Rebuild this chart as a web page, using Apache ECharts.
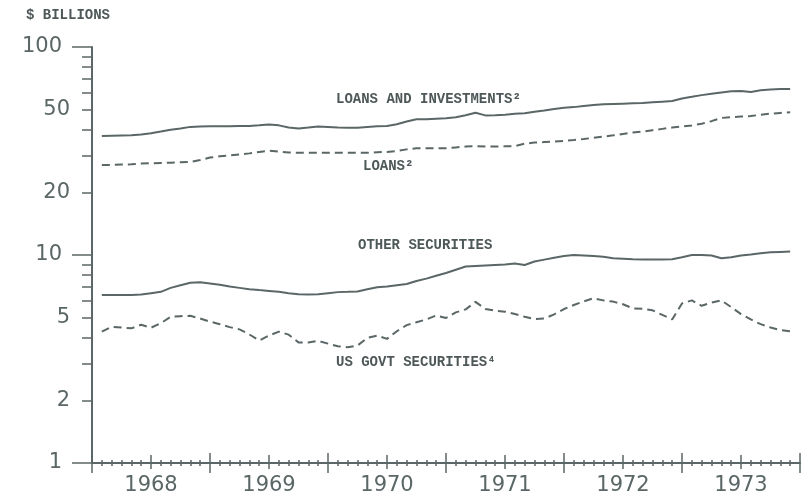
<!DOCTYPE html>
<html>
<head>
<meta charset="utf-8">
<script src="https://cdn.jsdelivr.net/npm/echarts@6/dist/echarts.min.js"></script>
<style>
html, body { margin: 0; padding: 0; background: #fff; }
#main { width: 805px; height: 500px; }
</style>
</head>
<body>
<div id="main"></div>
<script>
// month-end readings, Jan 1968 .. Nov 1973 ($ billions)
var firstMonth = 1;
var yearLabels = ['1968', '1969', '1970', '1971', '1972', '1973'];
var yTicks = [1, 2, 3, 4, 5, 6, 7, 8, 9, 10, 20, 30, 40, 50, 60, 70, 80, 90, 100];
var yLabelsShort = [2, 5, 20, 50];
var yLabelsLong = [1, 10, 100];

var loansInvest = [37.3, 37.4, 37.5, 37.6, 38.0, 38.5, 39.2, 40.0, 40.6, 41.3, 41.5, 41.6,
    41.6, 41.6, 41.7, 41.7, 42.0, 42.4, 42.0, 41.0, 40.6, 41.0, 41.5, 41.3,
    41.0, 40.9, 40.9, 41.3, 41.6, 41.7, 42.5, 43.8, 44.9, 45.0, 45.2, 45.4,
    46.0, 47.0, 48.3, 46.9, 47.0, 47.3, 47.7, 48.0, 48.8, 49.5, 50.3, 51.0,
    51.4, 52.0, 52.6, 53.0, 53.2, 53.4, 53.6, 53.8, 54.2, 54.6, 55.0, 56.6,
    57.6, 58.7, 59.6, 60.5, 61.2, 61.5, 60.8, 62.0, 62.5, 62.8, 62.9];
var loans = [27.1, 27.1, 27.2, 27.3, 27.5, 27.6, 27.7, 27.8, 27.9, 28.0, 28.6, 29.4,
    29.8, 30.1, 30.4, 30.8, 31.3, 31.7, 31.4, 31.1, 31.0, 31.0, 31.0, 31.0,
    31.0, 31.0, 31.0, 31.0, 31.2, 31.3, 31.6, 32.2, 32.6, 32.6, 32.6, 32.6,
    32.9, 33.2, 33.4, 33.2, 33.2, 33.3, 33.4, 34.3, 34.7, 34.9, 35.1, 35.4,
    35.7, 36.1, 36.6, 37.1, 37.6, 38.2, 38.8, 39.2, 39.8, 40.4, 41.0, 41.5,
    41.9, 42.8, 44.0, 45.6, 46.0, 46.3, 46.6, 47.2, 47.8, 48.2, 48.5];
var otherSec = [6.42, 6.42, 6.42, 6.43, 6.45, 6.55, 6.65, 6.95, 7.15, 7.35, 7.4, 7.3,
    7.2, 7.05, 6.95, 6.85, 6.78, 6.72, 6.65, 6.55, 6.47, 6.45, 6.47, 6.55,
    6.63, 6.65, 6.68, 6.85, 7.0, 7.05, 7.15, 7.25, 7.5, 7.7, 7.95, 8.2,
    8.5, 8.8, 8.85, 8.9, 8.95, 9.0, 9.1, 8.95, 9.3, 9.5, 9.7, 9.9,
    10.0, 9.95, 9.9, 9.8, 9.65, 9.6, 9.55, 9.52, 9.52, 9.52, 9.55, 9.75,
    10.0, 10.0, 9.95, 9.65, 9.75, 9.95, 10.05, 10.2, 10.3, 10.35, 10.4];
var usGovtSec = [4.28, 4.52, 4.48, 4.44, 4.62, 4.47, 4.7, 5.05, 5.08, 5.1, 4.95, 4.78,
    4.65, 4.5, 4.39, 4.15, 3.88, 4.1, 4.28, 4.14, 3.8, 3.8, 3.87, 3.75,
    3.64, 3.6, 3.67, 4.0, 4.1, 3.95, 4.3, 4.6, 4.75, 4.9, 5.12, 4.98,
    5.3, 5.48, 5.95, 5.5, 5.4, 5.34, 5.2, 5.05, 4.92, 4.95, 5.18, 5.5,
    5.75, 5.98, 6.2, 6.05, 5.97, 5.8, 5.54, 5.52, 5.42, 5.15, 4.9, 5.85,
    6.05, 5.7, 5.9, 6.05, 5.62, 5.2, 4.9, 4.65, 4.48, 4.36, 4.3];

var ink = '#5b6666';
var labelFont = 'DejaVu Sans';

function pairs(arr) {
    return arr.map(function(v, i) { return [firstMonth + i, v]; });
}

// ticks cross the axis: an axis shifted up by its own tick length draws the part above
function xAxisDef(interval, len, offset, withLine, withLabel) {
    return {
        type: 'value', min: 0, max: 72, interval: interval,
        position: 'bottom', offset: offset,
        splitLine: { show: false },
        axisLine: { show: withLine, onZero: false, lineStyle: { color: ink, width: 2 } },
        axisTick: { show: true, length: len, lineStyle: { color: ink, width: 1.5 } },
        axisLabel: {
            show: withLabel, margin: 12, color: ink, fontFamily: labelFont, fontSize: 21,
            formatter: function(v) {
                if (v % 12 === 6) return yearLabels[(v - 6) / 12];
                return '';
            }
        }
    };
}

function yAxisDef(ticks, len, labels, margin, withLine) {
    return {
        type: 'log', logBase: 10, min: 1, max: 100, position: 'left', offset: 0,
        splitLine: { show: false },
        axisLine: { show: withLine, lineStyle: { color: ink, width: 2 } },
        axisTick: { show: true, length: len, customValues: ticks, lineStyle: { color: ink, width: 1.5 } },
        axisLabel: {
            show: true, customValues: labels, margin: margin, color: ink,
            fontFamily: labelFont, fontSize: 21
        }
    };
}

function lineSeries(name, arr, dashed) {
    return {
        name: name, type: 'line', xAxisIndex: 0, yAxisIndex: 0,
        data: pairs(arr), symbol: 'none', smooth: false, animation: false,
        lineStyle: { color: ink, width: 2, type: dashed ? [8, 5] : 'solid' }
    };
}

function note(text, x, y) {
    return {
        type: 'text', x: x, y: y,
        style: { text: text, fill: '#4e5858', font: 'bold 14px "Liberation Mono"', verticalAlign: 'middle' }
    };
}

var myChart = echarts.init(document.getElementById('main'));
var option = {
    animation: false,
    grid: { left: 92, right: 5, top: 47, bottom: 37, containLabel: false },
    xAxis: [
        xAxisDef(12, 10, 0, true, false),   // years, below
        xAxisDef(6, 6, 0, false, true),     // half years + labels, below
        xAxisDef(1, 3, 0, false, false),    // months, below
        xAxisDef(12, 10, -10, false, false),// years, above
        xAxisDef(6, 8, -8, false, false),   // half years, above
        xAxisDef(1, 3, -3, false, false)    // months, above
    ],
    yAxis: [
        yAxisDef(yTicks, 10, yLabelsShort, 22, true),
        yAxisDef(yLabelsLong, 20, yLabelsLong, 30, false)
    ],
    graphic: [
        note('$ BILLIONS', 26, 15),
        note('LOANS AND INVESTMENTS\u00b2', 336, 99),
        note('LOANS\u00b2', 363, 166),
        note('OTHER SECURITIES', 358, 245),
        note('US GOVT SECURITIES\u2074', 336, 362)
    ],
    series: [
        lineSeries('Loans and investments', loansInvest, false),
        lineSeries('Loans', loans, true),
        lineSeries('Other securities', otherSec, false),
        lineSeries('US Govt securities', usGovtSec, true)
    ]
};
myChart.setOption(option);
</script>
</body>
</html>
